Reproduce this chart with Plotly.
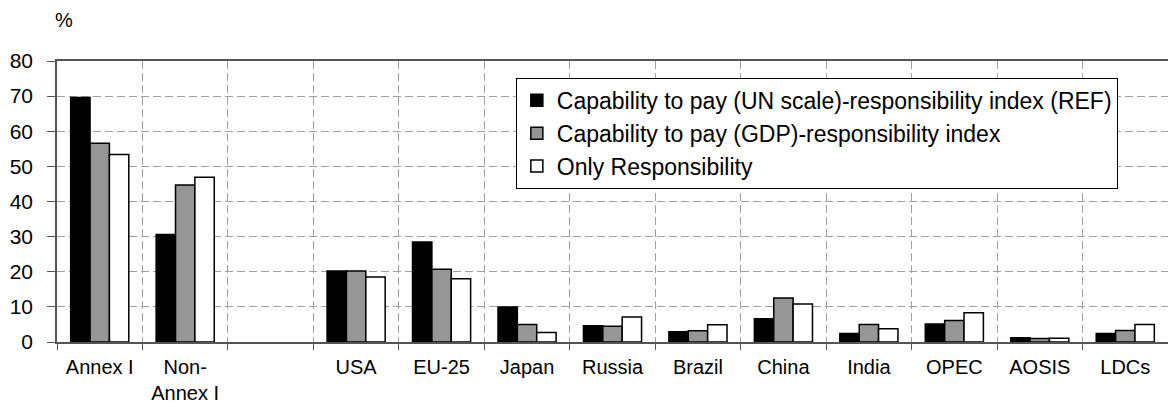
import plotly.graph_objects as go

categories = ["Annex I", "Non-<br>Annex I", " ", "USA", "EU-25", "Japan", "Russia",
              "Brazil", "China", "India", "OPEC", "AOSIS", "LDCs"]
series_names = ["Capability to pay (UN scale)-responsibility index (REF)",
                "Capability to pay (GDP)-responsibility index",
                "Only Responsibility"]
un_scale = [69.6, 30.6, None, 20.2, 28.5, 10.0, 4.6, 2.9, 6.6, 2.4, 5.1, 1.2, 2.4]
gdp_index = [56.6, 44.7, None, 20.2, 20.7, 5.0, 4.5, 3.2, 12.5, 5.0, 6.1, 1.0, 3.3]
only_resp = [53.4, 46.9, None, 18.5, 18.0, 2.7, 7.1, 4.9, 10.8, 3.8, 8.3, 1.1, 5.0]
y_ticks = [0, 10, 20, 30, 40, 50, 60, 70, 80]

colors = ["#000000", "#969696", "#ffffff"]
FONT = "Arial, Liberation Sans, sans-serif"

fig = go.Figure()
for name, vals, col in zip(series_names, [un_scale, gdp_index, only_resp], colors):
    fig.add_trace(go.Bar(
        x=categories, y=vals, name=name,
        marker=dict(color=col, line=dict(color="#000000", width=1.5)),
    ))

fig.update_layout(
    width=1168, height=407,
    margin=dict(l=57, r=0, t=61, b=65),
    paper_bgcolor="white", plot_bgcolor="white",
    barmode="group", bargap=0.32, bargroupgap=0,
    font=dict(family=FONT, size=18, color="#000000"),
    showlegend=True,
    legend=dict(
        x=0.413, y=0.94, xanchor="left", yanchor="top",
        bgcolor="white", bordercolor="#000000", borderwidth=1,
        font=dict(family=FONT, size=23, color="#000000"),
        tracegroupgap=0, itemwidth=30,
    ),
    xaxis=dict(
        type="category", tickson="boundaries",
        ticks="outside", ticklen=6, tickcolor="#555555",
        showline=True, linecolor="#555555", linewidth=1.5, mirror=True,
        showgrid=True, gridcolor="#a0a0a0", griddash="8px,4px", gridwidth=1,
        tickfont=dict(family=FONT, size=20, color="#000000"),
        ticklabelstandoff=6,
        range=[-0.5, 12.5],
    ),
    yaxis=dict(
        range=[0, 80], tickvals=y_ticks, ticktext=[str(v) for v in y_ticks],
        ticks="outside", ticklen=8, tickcolor="#555555",
        showline=True, linecolor="#555555", linewidth=1.5,
        showgrid=True, gridcolor="#a0a0a0", griddash="8px,4px", gridwidth=1,
        zeroline=False,
        ticklabelstandoff=10,
        tickfont=dict(family=FONT, size=21, color="#000000"),
    ),
    annotations=[dict(
        text="%", xref="paper", yref="paper", x=0, y=1,
        xanchor="left", yanchor="middle", xshift=-4, yshift=41,
        showarrow=False, font=dict(family=FONT, size=20, color="#000000"),
    )],
)

fig.write_html("out.html")
